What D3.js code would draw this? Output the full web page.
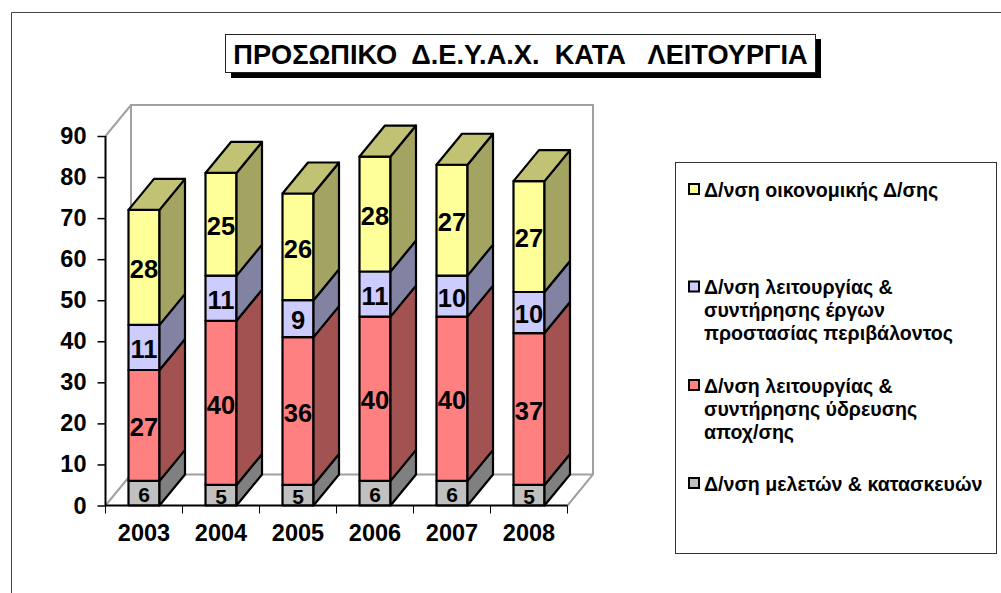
<!DOCTYPE html>
<html><head><meta charset="utf-8">
<script src="https://cdn.jsdelivr.net/npm/d3@7/dist/d3.min.js"></script>
<style>html,body{margin:0;padding:0;background:#fff}svg{display:block}text{font-family:"Liberation Sans",Arial,sans-serif;font-weight:bold;fill:#000}</style>
</head><body><svg id="c" width="1001" height="593"></svg>
<script>
const years = ["2003","2004","2005","2006","2007","2008"];
const meletes = [6,5,5,6,6,5];
const ydreusi = [27,40,36,40,40,37];
const perivallon = [11,11,9,11,10,10];
const oikonomiki = [28,25,26,28,27,27];
const title = "ΠΡΟΣΩΠΙΚΟ  Δ.Ε.Υ.Α.Χ.  ΚΑΤΑ   ΛΕΙΤΟΥΡΓΙΑ";
const legendEntries = [
  {lines:["Δ/νση οικονομικής Δ/σης"], fill:"#ffff99", y:190},
  {lines:["Δ/νση λειτουργίας &","συντήρησης έργων","προστασίας περιβάλοντος"], fill:"#ccccff", y:287.5},
  {lines:["Δ/νση λειτουργίας &","συντήρησης ύδρευσης","αποχ/σης"], fill:"#ff8080", y:386},
  {lines:["Δ/νση μελετών & κατασκευών"], fill:"#c0c0c0", y:484}
];
const seriesList = [
  {v:meletes, front:"#c0c0c0", side:"#808080", top:"#a0a0a0", fs:21},
  {v:ydreusi, front:"#ff8080", side:"#a35252", top:"#c26262", fs:25.5},
  {v:perivallon, front:"#ccccff", side:"#8282a3", top:"#9c9cc2", fs:25.5},
  {v:oikonomiki, front:"#ffff99", side:"#a3a362", top:"#c2c275", fs:25.5}
];
const svg = d3.select("#c");
const X0=105.5, X1=567.5, Y0=505.5, Y90=136, DX=25.5, DY=31, BW=31;
const y = d3.scaleLinear().domain([0,90]).range([Y0,Y90]);
const x = d3.scaleBand().domain(years).range([X0,X1]);

// outer frame
svg.append("path").attr("d","M11.5,593V12.5H1001").attr("fill","none").attr("stroke","#444").attr("stroke-width",1);

// title
svg.append("rect").attr("x",231).attr("y",39).attr("width",590).attr("height",39).attr("fill","#000");
svg.append("rect").attr("x",225.5).attr("y",34.5).attr("width",590).attr("height",38).attr("fill","#fff").attr("stroke","#222");
svg.append("text").attr("x",520.5).attr("y",63.5).attr("text-anchor","middle").attr("font-size",27.2).style("white-space","pre").text(title);

// walls
const wall="#a0a0a0";
svg.append("path").attr("fill","none").attr("stroke",wall).attr("stroke-width",2)
 .attr("d",`M${X0},${Y90}L${X0+DX},${Y90-DY}H${X1+DX}V${Y0-DY}L${X1},${Y0}M${X0+DX},${Y90-DY}V${Y0-DY}H${X1+DX}M${X0},${Y0}L${X0+DX},${Y0-DY}`);

// bars
const barG = svg.append("g").attr("stroke","#000").attr("stroke-width",2.2).attr("stroke-linejoin","round");
const labels=[];
years.forEach((yr,i)=>{
  let acc=0;
  const bx = x(yr)+(x.bandwidth()-BW)/2;
  seriesList.forEach((s,si)=>{
    const a=acc,b=acc+s.v[i]; acc=b;
    const yb=y(a), yt=y(b);
    barG.append("rect").attr("x",bx).attr("y",yt).attr("width",BW).attr("height",yb-yt).attr("fill",s.front);
    barG.append("path").attr("fill",s.side).attr("d",`M${bx+BW},${yb}L${bx+BW+DX},${yb-DY}V${yt-DY}L${bx+BW},${yt}Z`);
    if(si===seriesList.length-1)
      barG.append("path").attr("fill",s.top).attr("d",`M${bx},${yt}L${bx+DX},${yt-DY}H${bx+BW+DX}L${bx+BW},${yt}Z`);
    labels.push({t:s.v[i],x:bx+BW/2,y:(yb+yt)/2,fs:s.fs});
  });
});
svg.append("g").selectAll("text").data(labels).join("text")
 .attr("x",d=>d.x).attr("y",d=>d.y).attr("dy",d=>d.fs*0.36+1.5).attr("text-anchor","middle").attr("font-size",d=>d.fs).text(d=>d.t);

// axes
const yAxis = d3.axisLeft(y).tickValues(d3.range(0,91,10)).tickSize(8).tickPadding(11);
const gy = svg.append("g").attr("transform",`translate(${X0},0)`).call(yAxis);
const xAxis = d3.axisBottom(x).tickSize(0).tickPadding(19);
const gx = svg.append("g").attr("transform",`translate(0,${Y0})`).call(xAxis);
gx.selectAll(".tick line").remove();
const xt = svg.append("g");
d3.range(0,7).forEach(i=>xt.append("line").attr("x1",X0+i*x.step()).attr("x2",X0+i*x.step()).attr("y1",Y0).attr("y2",Y0+8).attr("stroke","#000"));
[gx,gy].forEach(g=>{g.select(".domain").attr("stroke","#000").attr("stroke-width",2);g.selectAll(".tick line").attr("stroke","#000").attr("stroke-width",1.5);g.selectAll("text").attr("font-size",23.5).attr("fill","#000").attr("font-family",'"Liberation Sans"').attr("font-weight","bold");});
gx.select(".domain").attr("d",`M${X0},0H${X1}`);
gy.select(".domain").attr("d",`M0,${Y90}V${Y0}`);

// legend
svg.append("rect").attr("x",675.5).attr("y",162.5).attr("width",321).attr("height",391).attr("fill","#fff").attr("stroke","#333");
const lg = svg.append("g").selectAll("g").data(legendEntries).join("g").attr("transform",d=>`translate(0,${d.y})`);
lg.append("rect").attr("x",689).attr("y",-6).attr("width",10).attr("height",10).attr("fill",d=>d.fill).attr("stroke","#000").attr("stroke-width",2);
lg.each(function(d){
  d.lines.forEach((l,i)=>d3.select(this).append("text").attr("x",704).attr("y",6.5+i*23).attr("font-size",19.6).text(l));
});
</script></body></html>
